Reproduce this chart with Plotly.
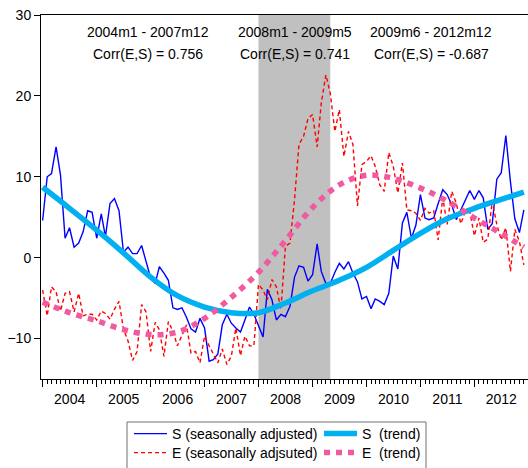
import pandas as pd
import plotly.graph_objects as go

# ---- data (monthly, 2004m1 - 2012m12) ----
dates = pd.date_range("2004-01-01", periods=108, freq="MS")

s_sa = [4.6, 10.0, 10.4, 13.7, 10.2, 2.4, 3.7, 1.3, 1.8, 3.2, 5.8, 5.6,
        2.4, 5.4, 2.6, 6.7, 7.3, 5.8, 0.7, 1.3, 0.5, 0.5, 1.5, -0.5,
        -2.5, -3.2, -1.1, -1.9, -2.8, -6.2, -6.4, -6.2, -7.4, -8.8, -9.2, -7.5,
        -8.7, -12.8, -12.6, -11.9, -8.3, -7.0, -8.1, -8.7, -9.2, -7.7, -6.1, -7.0,
        -8.3, -9.8, -3.9, -5.2, -7.7, -7.0, -7.3, -6.0, -2.4, -1.0, -1.2, -2.9,
        -2.1, 1.7, -1.7, -3.2, -3.2, -1.8, -0.7, -1.4, -0.5, -1.9, -3.0, -5.1,
        -4.8, -6.3, -5.1, -5.4, -5.8, -4.4, 0.2, -1.4, 4.3, 5.6, 2.4, 4.0,
        7.8, 4.9, 4.7, 4.9, 6.7, 8.4, 7.8, 6.5, 4.7, 5.9, 7.2, 8.3,
        7.2, 8.3, 7.4, 3.5, 4.2, 9.7, 10.5, 15.1, 9.4, 4.8, 3.1, 5.9]

e_sa = [-4.0, -7.2, -3.6, -4.2, -6.6, -4.4, -4.2, -6.7, -4.4, -7.2, -7.0, -7.0,
        -7.7, -6.6, -6.9, -7.6, -6.4, -5.4, -8.8, -10.3, -12.7, -11.6, -5.8, -6.7,
        -11.6, -8.0, -8.9, -12.2, -7.9, -9.1, -10.9, -9.5, -8.3, -11.8, -11.6, -13.0,
        -9.7, -10.9, -11.9, -13.0, -11.3, -13.2, -12.2, -8.7, -12.1, -9.7, -10.9, -10.9,
        -3.3, -4.0, -5.2, -2.7, -3.6, -6.4, 1.4, 1.8, 7.2, 14.0, 15.0, 17.2,
        17.7, 13.7, 19.1, 22.6, 20.3, 15.6, 18.3, 12.5, 15.6, 14.0, 6.4, 11.5,
        11.9, 12.6, 11.3, 9.0, 8.2, 13.0, 11.3, 8.0, 11.7, 5.9, 5.8, 5.5,
        4.6, 6.1, 5.5, 5.8, 2.2, 7.4, 4.1, 8.2, 6.7, 4.2, 5.7, 5.7,
        2.7, 4.9, 1.9, 2.3, 7.0, 4.1, 2.2, 3.7, -1.7, 3.5, 2.0, -0.9]

trend_dates = ["2004-01-01", "2004-07-01", "2005-01-01", "2005-07-01", "2006-01-01",
               "2006-07-01", "2007-01-01", "2007-07-01", "2008-01-01", "2008-07-01",
               "2009-01-01", "2009-07-01", "2010-01-01", "2010-07-01", "2011-01-01",
               "2011-07-01", "2012-01-01", "2012-07-01", "2012-12-01"]
s_trend = [8.7, 6.1, 3.4, 0.6, -2.4, -4.7, -6.1, -6.8, -6.8, -5.6,
           -4.1, -2.8, -1.2, 0.9, 3.0, 4.8, 6.1, 7.2, 8.1]
e_trend = [-5.5, -6.8, -7.8, -8.9, -9.5, -9.2, -7.5, -4.9, -1.8, 2.1,
           6.2, 9.0, 10.2, 9.8, 8.6, 7.0, 4.9, 3.0, 1.3]

periods = ["2004m1 - 2007m12", "2008m1 - 2009m5", "2009m6 - 2012m12"]
corrs = ["Corr(E,S) = 0.756", "Corr(E,S) = 0.741", "Corr(E,S) = -0.687"]
period_centers = ["2005-12-15", "2008-09-01", "2011-03-15"]
shade = ("2008-01-01", "2009-05-01")

FONT = "Liberation Sans, Arial, sans-serif"
W, H = 528, 468
PL, PR, PT, PB = 41, 528, 15, 379   # plot area in page pixels
pw, ph = PR - PL, PB - PT


def px_x(p):
    return (p - PL) / pw


def px_y(p):
    return (PB - p) / ph


fig = go.Figure()
fig.add_trace(go.Scatter(x=dates, y=s_sa, mode="lines", name="S (seasonally adjusted)",
                         line=dict(color="#0000FF", width=1.4), legend="legend"))
fig.add_trace(go.Scatter(x=dates, y=e_sa, mode="lines", name="E (seasonally adjsuted)",
                         line=dict(color="#FF0000", width=1.4, dash="4px,3px"), legend="legend3"))
fig.add_trace(go.Scatter(x=trend_dates, y=s_trend, mode="lines", name="S\u00a0 (trend)",
                         line=dict(color="#00B0F0", width=5.5, shape="spline"), legend="legend2"))
fig.add_trace(go.Scatter(x=trend_dates, y=e_trend, mode="lines", name="E\u00a0 (trend)",
                         line=dict(color="#F05AA0", width=5.5, shape="spline", dash="6px,6px"),
                         legend="legend4"))

fig.add_shape(type="rect", xref="x", yref="paper", x0=shade[0], x1=shade[1], y0=0, y1=1,
              fillcolor="#C0C0C0", line=dict(width=0), layer="below")

# legend frame
fig.add_shape(type="rect", xref="paper", yref="paper",
              x0=px_x(127), x1=px_x(426), y0=px_y(472), y1=px_y(422),
              line=dict(color="#707070", width=1), fillcolor="rgba(0,0,0,0)")

for xc, p, c in zip(period_centers, periods, corrs):
    fig.add_annotation(x=xc, xref="x", y=px_y(32), yref="paper", text=p, showarrow=False,
                       font=dict(family=FONT, size=14, color="black"), yanchor="middle")
    fig.add_annotation(x=xc, xref="x", y=px_y(54), yref="paper", text=c, showarrow=False,
                       font=dict(family=FONT, size=14, color="black"), yanchor="middle")


def leg(xp, yp):
    return dict(x=px_x(xp), y=px_y(yp), xanchor="left", yanchor="middle",
                bgcolor="rgba(0,0,0,0)", borderwidth=0, itemwidth=33,
                font=dict(family=FONT, size=14, color="black"))


fig.update_layout(
    width=W, height=H,
    margin=dict(l=PL, r=W - PR, t=PT, b=H - PB, autoexpand=False),
    paper_bgcolor="white", plot_bgcolor="white",
    font=dict(family=FONT, size=14, color="black"),
    showlegend=True,
    legend=leg(129, 434),
    legend2=leg(319, 434),
    legend3=leg(129, 453),
    legend4=leg(319, 453),
    xaxis=dict(type="date", range=["2003-12-21", "2012-12-29"], automargin=False,
               tickmode="linear", tick0="2004-01-01", dtick="M12",
               ticklabelmode="period", tickformat="%Y", ticklabeloverflow="allow",
               ticks="outside", ticklen=7, tickcolor="black", tickwidth=1,
               minor=dict(dtick="M1", tick0="2004-01-01", ticks="outside", ticklen=4,
                          tickcolor="black", tickwidth=1, showgrid=False),
               showline=True, linecolor="black", linewidth=1, mirror=True,
               showgrid=False, zeroline=False,
               tickfont=dict(family=FONT, size=14, color="black")),
    yaxis=dict(range=[-15, 30], tickvals=[-10, 0, 10, 20, 30], automargin=False,
               ticklabeloverflow="allow",
               ticks="outside", ticklen=6, tickcolor="black",
               showline=True, linecolor="black", linewidth=1,
               showgrid=False, zeroline=False,
               tickfont=dict(family=FONT, size=14, color="black")),
)

fig.write_html("out.html",
               config={"displayModeBar": False},
               post_script="document.body.style.margin='0';"
                           "document.body.style.overflow='hidden';")
